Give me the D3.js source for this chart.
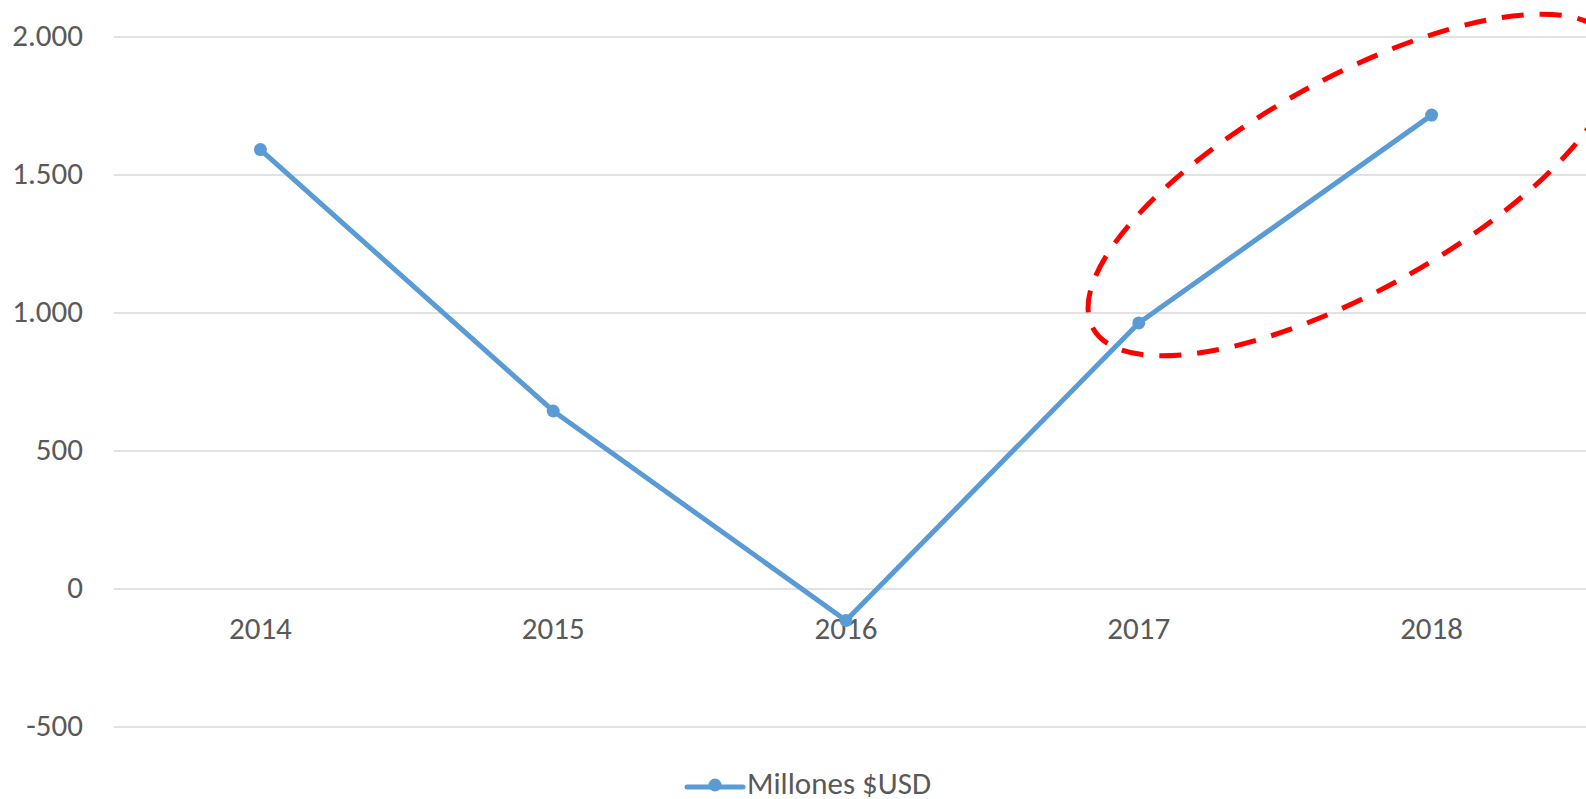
<!DOCTYPE html>
<html>
<head>
<meta charset="utf-8">
<script src="https://cdn.jsdelivr.net/npm/d3@7"></script>
<style>
  html, body { margin: 0; padding: 0; background: #fff; overflow: hidden; }
  svg { display: block; }
  text { font-family: Carlito, Calibri, Lato, sans-serif; fill: #595959; }
</style>
</head>
<body>
<div id="chart"></div>
<script>
// --- data ---
const years = ['2014', '2015', '2016', '2017', '2018'];
const values = [1592, 645, -114, 964, 1717];
const yTicks = [-500, 0, 500, 1000, 1500, 2000];
const seriesName = 'Millones $USD';

const W = 1586, H = 799;
const margin = {top: 37, right: 8, bottom: 72, left: 114};

const svg = d3.select('#chart').append('svg')
    .attr('width', W)
    .attr('height', H);

const x = d3.scaleBand()
    .domain(years)
    .range([margin.left, W - margin.right]);

const y = d3.scaleLinear()
    .domain([-500, 2000])
    .range([H - margin.bottom, margin.top]);

// gridlines
svg.append('g')
    .selectAll('line')
    .data(yTicks)
    .join('line')
    .attr('x1', margin.left)
    .attr('x2', W)
    .attr('y1', d => y(d))
    .attr('y2', d => y(d))
    .attr('stroke', '#d9d9d9')
    .attr('stroke-width', 1.5);

// y labels: dot as thousands separator, plain hyphen for negatives
const fmt = d3.formatLocale({decimal: ',', thousands: '.', grouping: [3], currency: ['$', ''], minus: '-'}).format(',');
svg.append('g')
    .selectAll('text')
    .data(yTicks)
    .join('text')
    .attr('x', 83)
    .attr('y', d => y(d))
    .attr('dy', '0.3em')
    .attr('text-anchor', 'end')
    .style('font-size', '31px')
    .text(d => fmt(d));

// x labels
svg.append('g')
    .selectAll('text')
    .data(years)
    .join('text')
    .attr('x', d => x(d) + x.bandwidth() / 2)
    .attr('y', 639)
    .attr('text-anchor', 'middle')
    .style('font-size', '31px')
    .text(d => d);

// series line
const pts = years.map((yr, i) => ({yr, v: values[i]}));
const line = d3.line()
    .x(d => x(d.yr) + x.bandwidth() / 2)
    .y(d => y(d.v));

svg.append('path')
    .datum(pts)
    .attr('d', line)
    .attr('fill', 'none')
    .attr('stroke', '#5b9bd5')
    .attr('stroke-width', 5)
    .attr('stroke-linejoin', 'round');

svg.append('g')
    .selectAll('circle')
    .data(pts)
    .join('circle')
    .attr('cx', d => x(d.yr) + x.bandwidth() / 2)
    .attr('cy', d => y(d.v))
    .attr('r', 6.5)
    .attr('fill', '#5b9bd5');

// red dashed annotation ellipse
svg.append('ellipse')
    .attr('cx', 0)
    .attr('cy', 0)
    .attr('rx', 296)
    .attr('ry', 106)
    .attr('transform', 'translate(1352,185) rotate(-29)')
    .attr('fill', 'none')
    .attr('stroke', '#ff0000')
    .attr('stroke-width', 5)
    .attr('stroke-dasharray', '22,16');

// legend
const lg = svg.append('g').attr('transform', 'translate(687,787)');
lg.append('line')
    .attr('x1', 0).attr('x2', 56)
    .attr('y1', 0).attr('y2', 0)
    .attr('stroke', '#5b9bd5')
    .attr('stroke-width', 5)
    .attr('stroke-linecap', 'round');
lg.append('circle')
    .attr('cx', 28).attr('cy', -2)
    .attr('r', 6.5)
    .attr('fill', '#5b9bd5');
lg.append('text')
    .attr('x', 60)
    .attr('y', 7)
    .style('font-size', '31px')
    .text(seriesName);
</script>
</body>
</html>
